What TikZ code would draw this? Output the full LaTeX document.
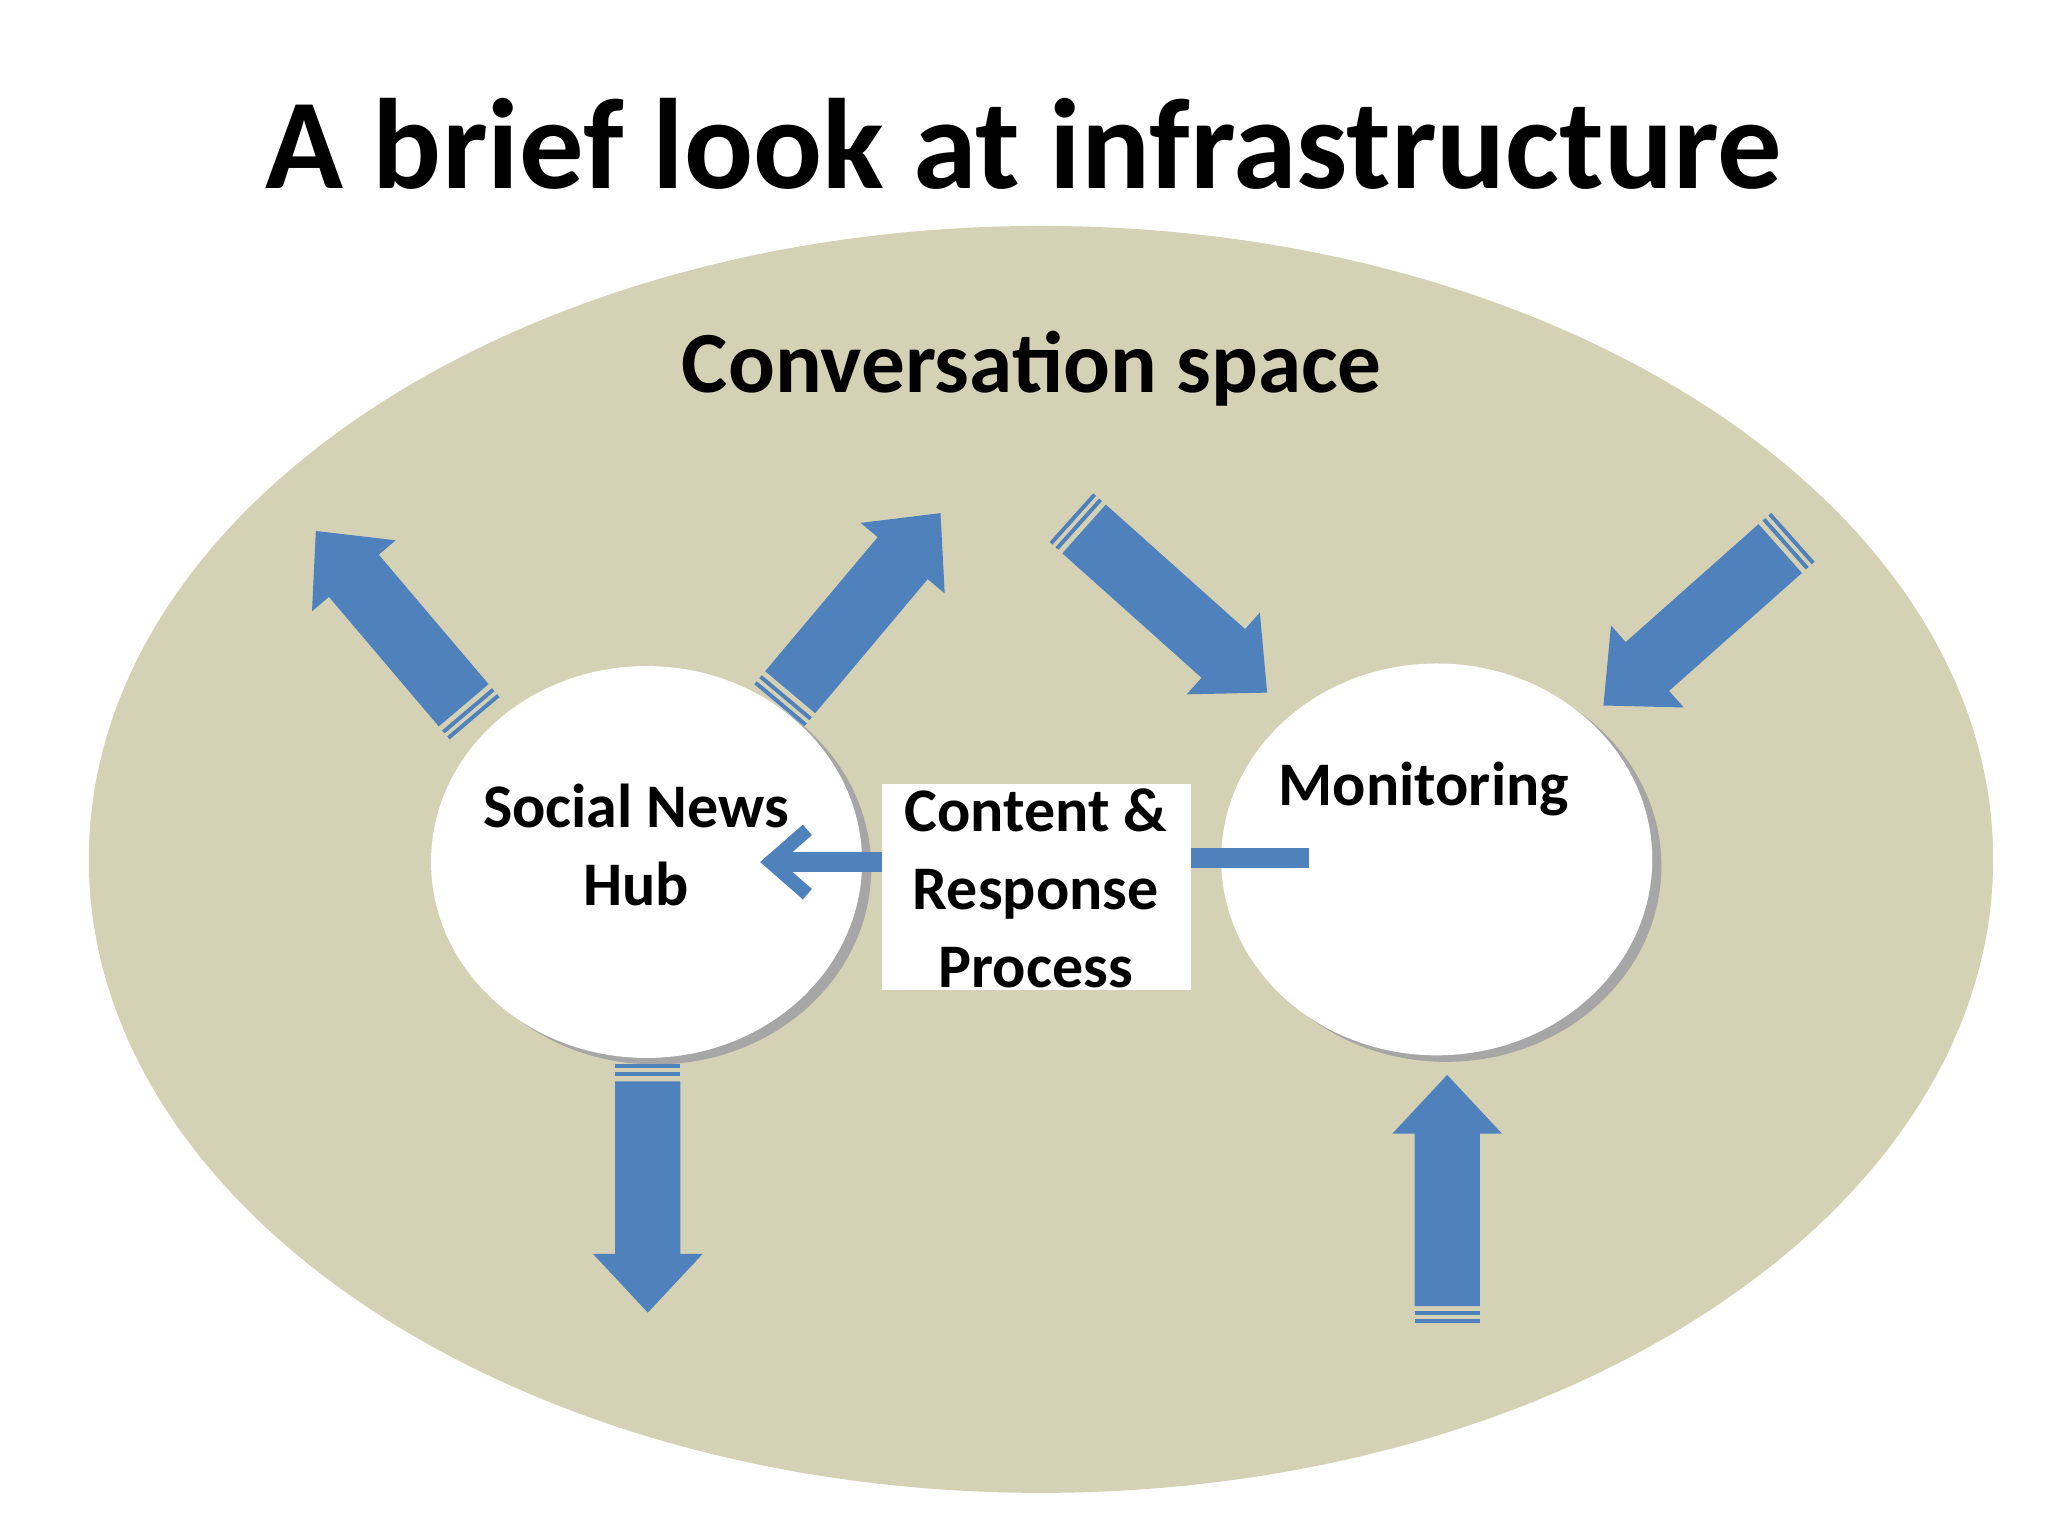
\documentclass[tikz,border=0pt]{standalone}
\usepackage{fontspec}
\setmainfont{Carlito}
\usetikzlibrary{arrows.meta}
\definecolor{olive}{HTML}{D5D1B5}
\definecolor{barblue}{HTML}{4F81BD}
\tikzset{
  barrow/.pic={
    \fill[barblue] (0,-25) -- ({#1-45},-25) -- ({#1-45},-42) -- (#1,0) -- ({#1-45},42) -- ({#1-45},25) -- (0,25) -- cycle;
    \fill[barblue] (-4,-25) rectangle (-7,25);
    \fill[barblue] (-10,-25) rectangle (-13,25);
  },
  lbl/.style={font=\bfseries\fontsize{13.5}{17}\selectfont, align=center, text=black}
}
\begin{document}
\begin{tikzpicture}[x=0.01cm,y=0.01cm]
\useasboundingbox[fill=white] (0,0) rectangle (1568,1176);
\node[font=\bfseries\fontsize{28}{32}\selectfont] (title) at (784,1066) {A brief look at infrastructure};
\fill[olive] (797,518) ellipse [x radius=729, y radius=485];
\node[font=\bfseries\fontsize{19}{22}\selectfont] (space) at (790,894) {Conversation space};
% circles
\fill[gray!70] (502,511) ellipse [x radius=165, y radius=150];
\fill[white] (495,516) ellipse [x radius=165, y radius=150];
\fill[gray!70] (1107,513) ellipse [x radius=165, y radius=150];
\fill[white] (1100,518) ellipse [x radius=165, y radius=150];
\node[lbl] (hub) at (487,529) {Social News\\Hub};
\node[lbl] (mon) at (1090,572) {Monitoring};
\fill[white] (675,418) rectangle (912,576);
\coordinate (bl) at (675,516);
\coordinate (br) at (912,519);
\node[lbl] (proc) at (793,496) {Content \&\\Response\\Process};
\coordinate (hubtip) at (582,516);
\coordinate (monend) at (1002,519);
\draw[barblue, line width=4.5pt, -{Straight Barb[length=8pt,width=14pt,line width=3pt]}] (bl) -- (hubtip);
\draw[barblue, line width=4.5pt] (br) -- (monend);
% block arrows
\pic[shift={(355,636)}, rotate=130.3] {barrow=175};
\pic[shift={(605,646)}, rotate=50.0] {barrow=179};
\pic[shift={(830,771)}, rotate=-41.8] {barrow=188};
\pic[shift={(1363,756)}, rotate=221.6] {barrow=181};
\pic[shift={(496,348)}, rotate=-90] {barrow=177};
\pic[shift={(1108,176)}, rotate=90] {barrow=177};
\end{tikzpicture}
\end{document}
